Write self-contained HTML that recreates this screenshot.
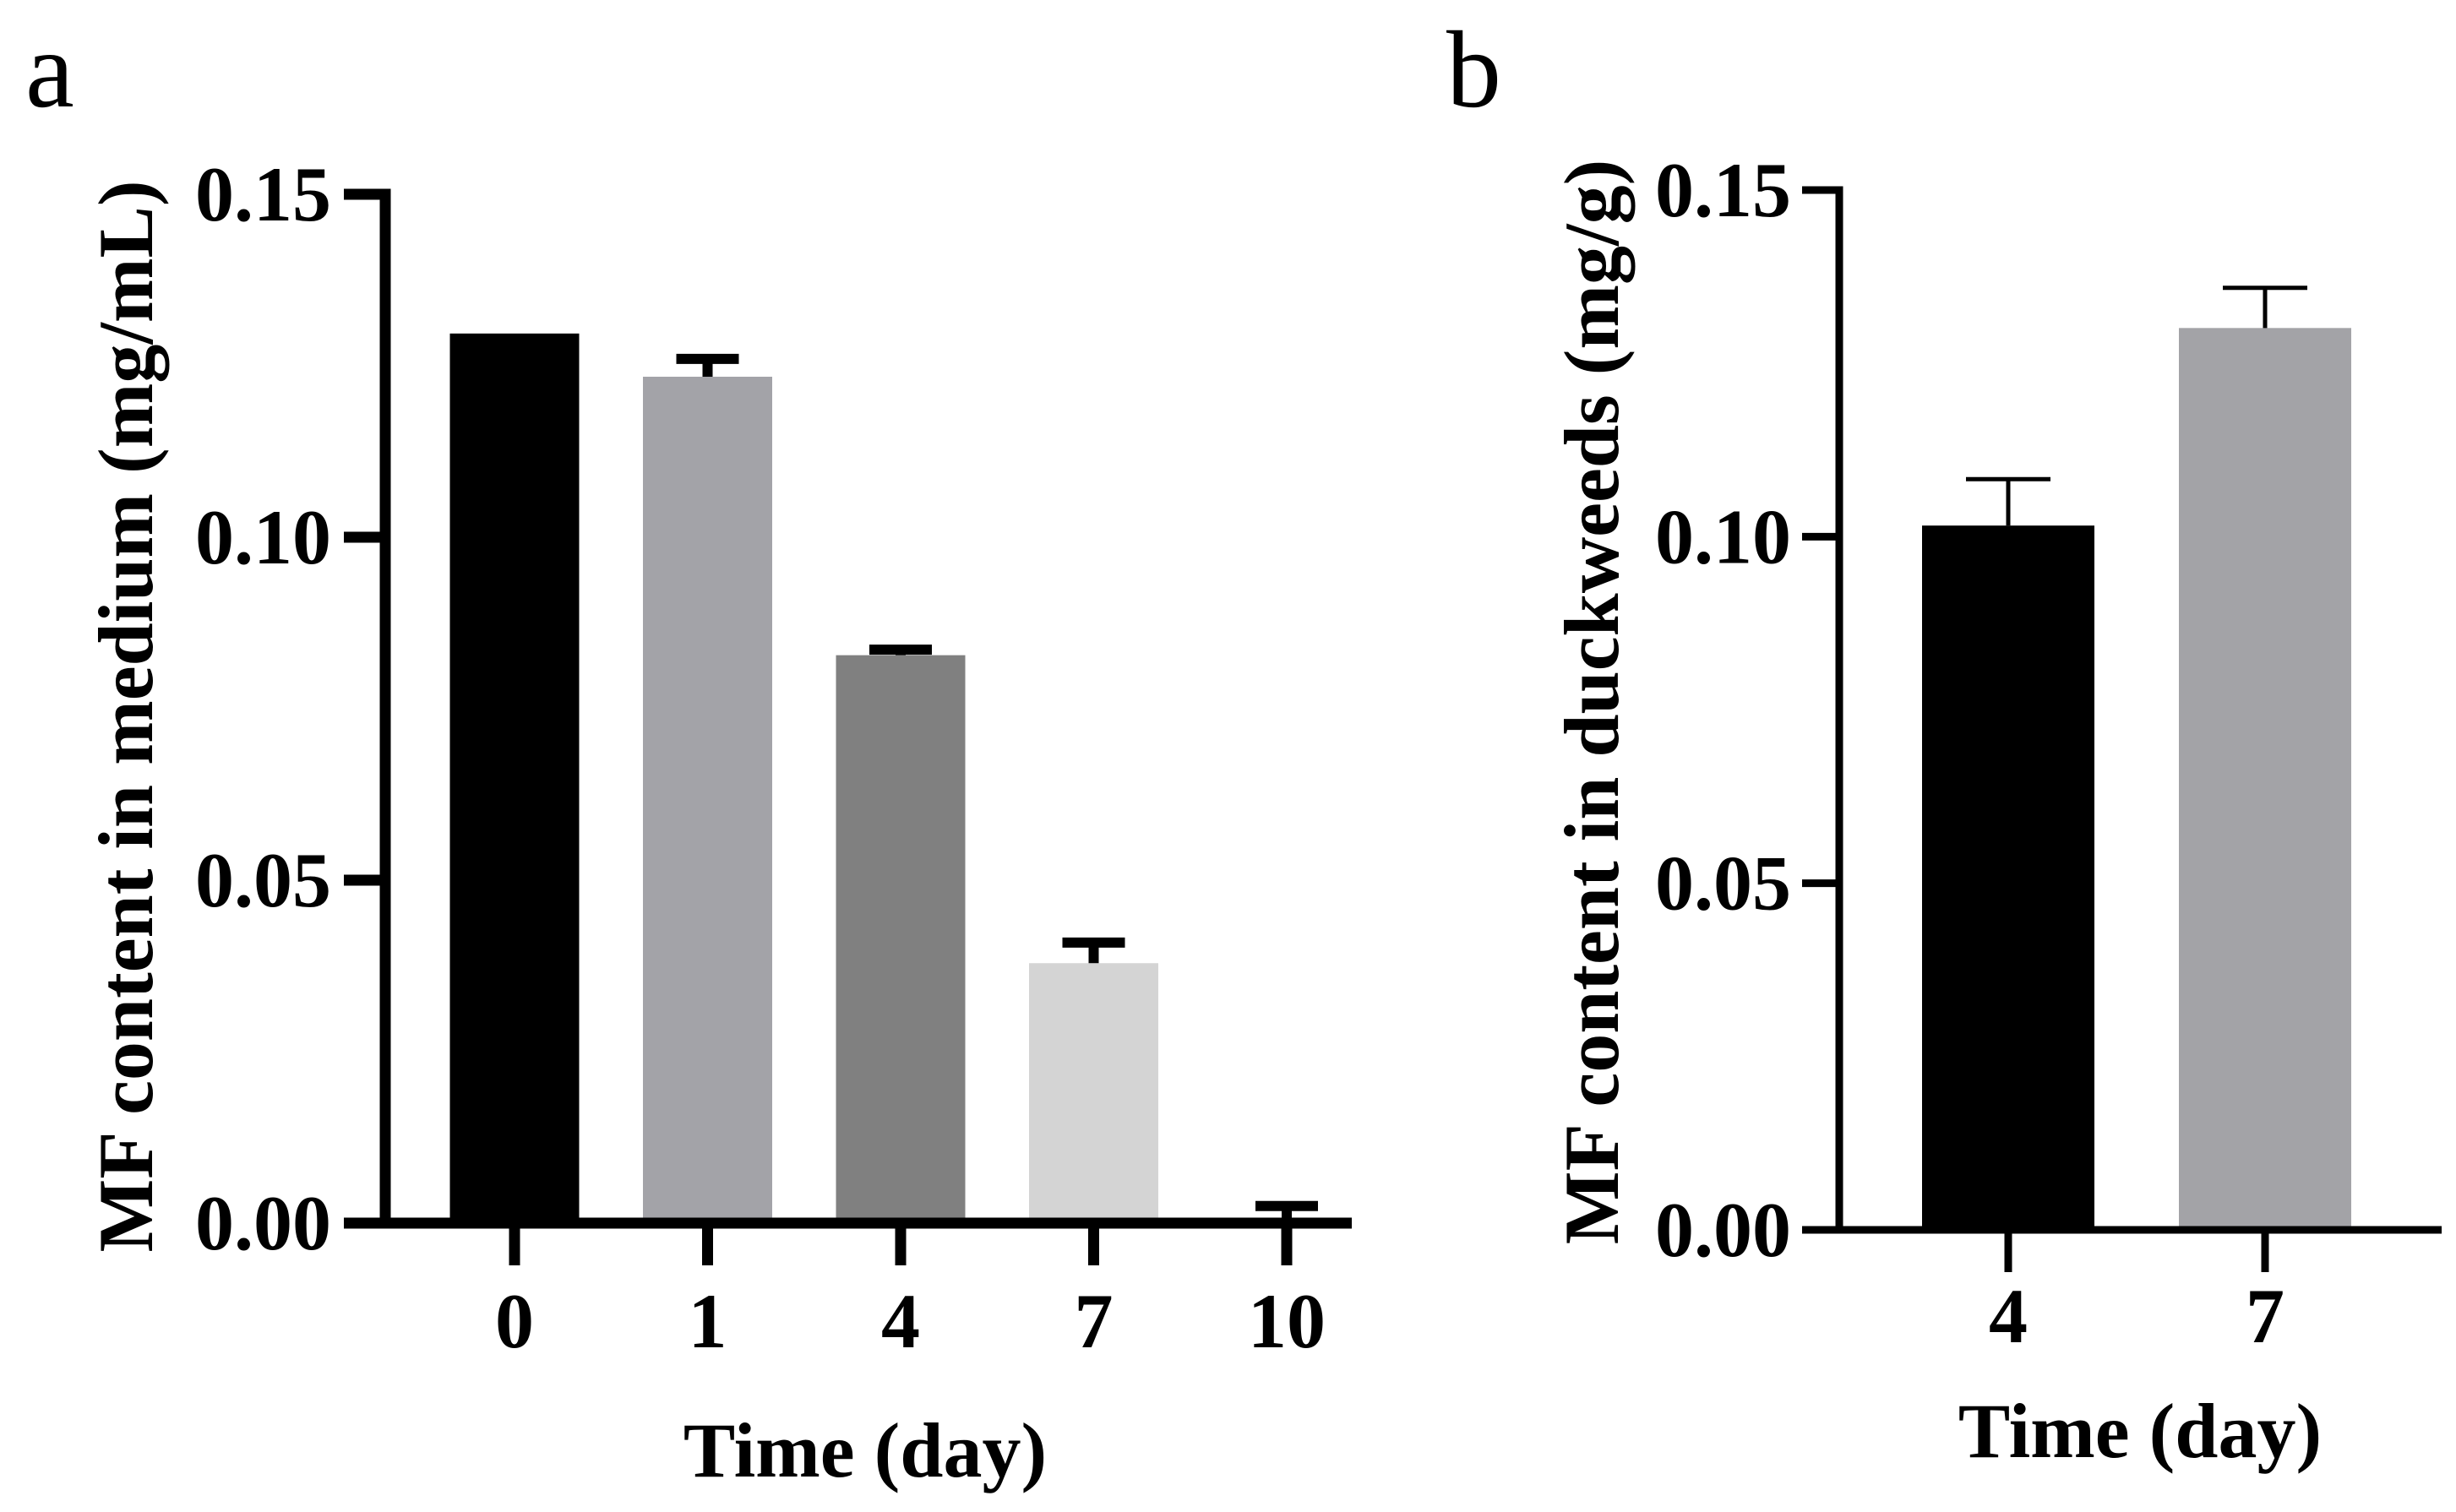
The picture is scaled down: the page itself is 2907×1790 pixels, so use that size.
<!DOCTYPE html>
<html><head><meta charset="utf-8"><style>
html,body{margin:0;padding:0;background:#fff;}
svg{display:block;}
text{font-family:"Liberation Serif",serif;font-weight:bold;fill:#000;}
</style></head><body>
<svg id="fig" width="2907" height="1790" viewBox="0 0 2907 1790">
<text x="30" y="126" style="font-weight:normal;font-size:130px">a</text>
<text x="1712" y="126" style="font-weight:normal;font-size:130px">b</text>
<g id="pa"></g>
<g id="pb"></g>
</svg>
<script>
// Panel a data
const catsA = ["0", "1", "4", "7", "10"];
const valsA = [0.1297, 0.1234, 0.0828, 0.0379, 0.0005];
const errA = [0, 0.0026, 0.0008, 0.003, 0.002];
const colorsA = ["#000000", "#a3a3a8", "#808080", "#d4d4d4", "#c8c8c8"];
const ticksA = [0, 0.05, 0.10, 0.15];
const tickLabelsA = ["0.00", "0.05", "0.10", "0.15"];
// Panel b data
const catsB = ["4", "7"];
const valsB = [0.1016, 0.1301];
const errB = [0.0067, 0.0058];
const colorsB = ["#000000", "#a3a3a7"];
const ticksB = [0, 0.05, 0.10, 0.15];
const tickLabelsB = ["0.00", "0.05", "0.10", "0.15"];

const NS = "http://www.w3.org/2000/svg";
function mk(parent, tag, attrs, txt){
  const e = document.createElementNS(NS, tag);
  for (const k in attrs) e.setAttribute(k, attrs[k]);
  if (txt !== undefined) e.textContent = txt;
  parent.appendChild(e);
  return e;
}

function drawPanel(g, cfg){
  const y = v => cfg.y0 - (v - 0) / 0.15 * (cfg.y0 - cfg.yTop);
  const x = i => cfg.x0 + i * cfg.step;
  cfg.vals.forEach((v, i) => {
    const cx = x(i);
    const r = mk(g, "rect", {x: cx - cfg.bw/2, y: y(v), width: cfg.bw, height: cfg.y0 - y(v), fill: cfg.colors[i]});
    
    
    if (cfg.err[i] > 0) {
      const top = y(v + cfg.err[i]);
      const s = mk(g, "line", {x1: cx, x2: cx, y1: y(v), y2: top, stroke: "#000", "stroke-width": cfg.ew});
      
      
      const c = mk(g, "line", {x1: cx - cfg.cw/2, x2: cx + cfg.cw/2, y1: top, y2: top, stroke: "#000", "stroke-width": cfg.ew});
      
      
    }
  });
  const ya = mk(g, "line", {x1: cfg.ax, x2: cfg.ax, y1: cfg.yTop - cfg.aw/2, y2: cfg.y0 + cfg.aw/2, stroke: "#000", "stroke-width": cfg.aw});
  
  
  cfg.ticks.forEach((t, i) => {
    const ty = y(t);
    const tl = mk(g, "line", {x1: cfg.tickL, x2: cfg.ax, y1: ty, y2: ty, stroke: "#000", "stroke-width": cfg.aw});
    
    
    const tx = mk(g, "text", {x: cfg.labR, y: ty + 31, "text-anchor": "end", "font-size": 92}, cfg.tickLabels[i]);
    
    
  });
  const xa = mk(g, "line", {x1: cfg.tickL, x2: cfg.xEnd, y1: cfg.y0, y2: cfg.y0, stroke: "#000", "stroke-width": cfg.aw});
  
  
  cfg.cats.forEach((c, i) => {
    const tl = mk(g, "line", {x1: x(i), x2: x(i), y1: cfg.y0, y2: cfg.y0 + 50, stroke: "#000", "stroke-width": cfg.aw});
    
    
    const tx = mk(g, "text", {x: x(i), y: cfg.xLabY, "text-anchor": "middle", "font-size": 92}, c);
    
    
  });
  const xt = mk(g, "text", {x: cfg.xTitleX, y: cfg.xTitleY, "text-anchor": "middle", "font-size": 92}, "Time (day)");
  
  
  const yt = mk(g, "text", {x: 0, y: 0, "text-anchor": "middle", "font-size": 92,
    transform: "translate(" + cfg.yTitleX + "," + cfg.yTitleY + ") rotate(-90)"}, cfg.yTitle);
  
  
}

drawPanel(document.getElementById("pa"), {
  cats: catsA, vals: valsA, err: errA, colors: colorsA, ticks: ticksA, tickLabels: tickLabelsA,
  y0: 1448, yTop: 230, x0: 609, step: 228.5, bw: 153, ew: 12, cw: 74,
  ax: 456, aw: 13, tickL: 407, labR: 392, xEnd: 1600, xLabY: 1595,
  xTitleX: 1024, xTitleY: 1748, yTitleX: 180, yTitleY: 848, yTitle: "MF content in medium (mg/mL)"
});
drawPanel(document.getElementById("pb"), {
  cats: catsB, vals: valsB, err: errB, colors: colorsB, ticks: ticksB, tickLabels: tickLabelsB,
  y0: 1456, yTop: 225, x0: 2377, step: 304, bw: 204, ew: 5, cw: 100,
  ax: 2177, aw: 9, tickL: 2133, labR: 2120, xEnd: 2890, xLabY: 1589,
  xTitleX: 2533, xTitleY: 1725, yTitleX: 1915, yTitleY: 831, yTitle: "MF content in duckweeds (mg/g)"
});
</script>
</body></html>
